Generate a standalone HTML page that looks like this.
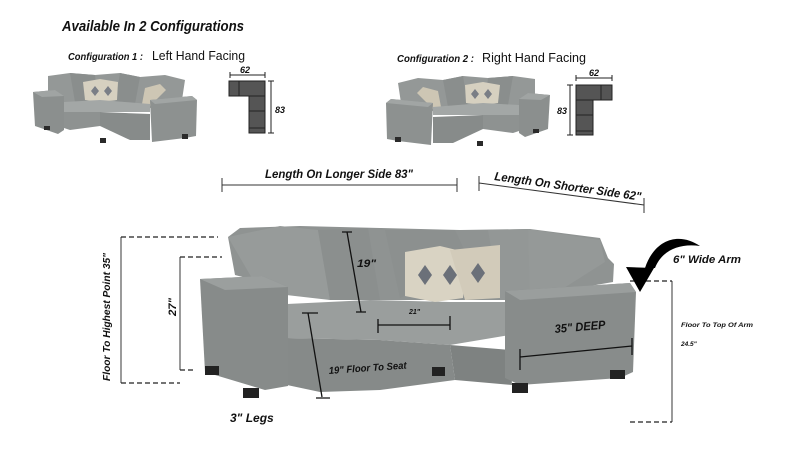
<!DOCTYPE html>
<html><head><meta charset="utf-8"><style>
body{margin:0;background:#fff}
svg{display:block}
text{font-family:"Liberation Sans",sans-serif;font-weight:bold;font-style:italic;fill:#111}
.n{font-family:"Liberation Sans",sans-serif;font-weight:normal;font-style:normal}
</style></head><body>
<svg width="800" height="462" viewBox="0 0 800 462" xmlns="http://www.w3.org/2000/svg">
<defs>
<g id="mini">
  <path d="M48,76 L70,73 L95,75 L120,73 L140,77 L165,75 L185,80 L182,100 L150,108 L65,104 L48,98 Z" fill="#949897"/>
  <path d="M70,73 L95,75 L98,100 L75,102 Z" fill="#8a8e8d"/>
  <path d="M120,73 L140,77 L135,104 L115,103 Z" fill="#8a8e8d"/>
  <path d="M83,82 L100,79 L118,82 L117,100 L100,102 L85,100 Z" fill="#d6d0c0"/>
  <path d="M145,88 L160,84 L166,90 L150,106 L142,104 Z" fill="#cdc6b4"/>
  <g fill="#7a7e86"><path d="M95,86 L99,91 L95,96 L91,91Z"/><path d="M108,86 L112,91 L108,96 L104,91Z"/></g>
  <path d="M33,92 L55,90 L64,96 L64,130 L58,134 L35,126 Z" fill="#8b8f8e"/>
  <path d="M33,92 L55,90 L64,96 L42,97 Z" fill="#a0a4a3"/>
  <path d="M64,102 L100,100 L150,104 L150,112 L100,112 L64,112 Z" fill="#a3a7a6"/>
  <path d="M64,112 L100,112 L100,126 L70,130 L64,128 Z" fill="#8e9291"/>
  <path d="M100,112 L150,114 L150,140 L130,140 L100,126 Z" fill="#878b8a"/>
  <path d="M150,100 L192,96 L197,100 L196,136 L185,138 L152,142 Z" fill="#8d9190"/>
  <path d="M150,100 L192,96 L197,100 L155,104 Z" fill="#a1a5a4"/>
  <g fill="#2a2a2a"><rect x="44" y="126" width="6" height="4"/><rect x="100" y="138" width="6" height="5"/><rect x="182" y="134" width="6" height="5"/></g>
</g>
</defs>

<text x="62" y="31" font-size="15" textLength="182" lengthAdjust="spacingAndGlyphs">Available In 2 Configurations</text>
<text x="68" y="60" font-size="10" textLength="75" lengthAdjust="spacingAndGlyphs">Configuration 1 :</text>
<text x="152" y="60" font-size="13" class="n" textLength="93" lengthAdjust="spacingAndGlyphs">Left Hand Facing</text>
<text x="397" y="62" font-size="10" textLength="77" lengthAdjust="spacingAndGlyphs">Configuration 2 :</text>
<text x="482" y="62" font-size="13" class="n" textLength="104" lengthAdjust="spacingAndGlyphs">Right Hand Facing</text>

<use href="#mini"/>
<g transform="translate(583,3) scale(-1,1)"><use href="#mini"/></g>

<g fill="#555" stroke="#222" stroke-width="1">
<rect x="229" y="81" width="36" height="15"/><rect x="249" y="96" width="16" height="37"/>
<line x1="239" y1="81" x2="239" y2="96"/><line x1="249" y1="111" x2="265" y2="111"/><line x1="249" y1="128" x2="265" y2="128"/>
<rect x="576" y="85" width="36" height="15"/><rect x="576" y="100" width="17" height="35"/>
<line x1="601" y1="85" x2="601" y2="100"/><line x1="576" y1="115" x2="593" y2="115"/><line x1="576" y1="131" x2="593" y2="131"/>
</g>
<g stroke="#222" stroke-width="1" fill="none">
<path d="M230,75 H265 M230,72 V78 M265,72 V78"/><path d="M271,81 V133 M268,81 H274 M268,133 H274"/>
<path d="M576,78 H612 M576,75 V81 M612,75 V81"/><path d="M570,85 V135 M567,85 H573 M567,135 H573"/>
</g>
<text x="240" y="73" font-size="9">62</text><text x="275" y="113" font-size="9">83</text>
<text x="589" y="76" font-size="9">62</text><text x="557" y="114" font-size="9">83</text>

<text x="265" y="178" font-size="12" textLength="148" lengthAdjust="spacingAndGlyphs">Length On Longer Side 83"</text>
<path d="M222,185 H457 M222,178 V192 M457,178 V192" stroke="#333" fill="none"/>
<text x="0" y="0" font-size="12" transform="translate(494,180) rotate(8)" textLength="148" lengthAdjust="spacingAndGlyphs">Length On Shorter Side 62"</text>
<path d="M479,183 L644,205 M479,176 V191 M644,198 V213" stroke="#333" fill="none"/>

<path d="M228,237 L240,228 L300,226 L380,228 L460,230 L530,229 L600,238 L608,258 L614,264 L613,282 L510,300 L330,300 L235,275 Z" fill="#8f9392"/>
<path d="M228,237 L280,226 L318,230 L330,300 L260,292 Z" fill="#979b9a"/>
<path d="M318,230 L368,228 L380,300 L330,300 Z" fill="#8b8f8e"/>
<path d="M385,230 L455,230 L470,262 L400,298 Z" fill="#8c908f"/>
<path d="M488,230 L528,229 L532,300 L500,300 Z" fill="#939796"/>
<path d="M528,229 L600,240 L605,262 L545,300 L530,300 Z" fill="#959998"/>
<path d="M287,304 L370,300 L450,302 L520,302 L522,333 L450,345 L380,340 L287,338 Z" fill="#9a9e9d"/>
<path d="M287,338 L380,340 L450,345 L455,380 L380,390 L320,392 L287,385 Z" fill="#868a89"/>
<path d="M450,345 L510,350 L512,385 L455,380 Z" fill="#7e8281"/>
<path d="M200,279 L262,276 L288,287 L288,386 L265,390 L205,372 Z" fill="#878b8a"/>
<path d="M200,279 L262,276 L288,287 L225,290 Z" fill="#9b9f9e"/>
<path d="M505,291 L630,283 L636,292 L633,372 L620,378 L520,385 L505,378 Z" fill="#888c8b"/>
<path d="M505,291 L630,283 L636,292 L520,300 Z" fill="#9a9e9d"/>
<path d="M405,252 L440,246 L465,252 L463,298 L435,302 L405,296 Z" fill="#d9d3c3"/>
<path d="M450,250 L500,245 L500,298 L465,300 Z" fill="#d2cbba"/>
<g fill="#6b7079"><path d="M425,265 L432,275 L425,285 L418,275Z"/><path d="M450,265 L457,275 L450,285 L443,275Z"/><path d="M478,263 L485,273 L478,283 L471,273Z"/></g>
<g fill="#222"><rect x="205" y="366" width="14" height="9"/><rect x="243" y="388" width="16" height="10"/><rect x="432" y="367" width="13" height="9"/><rect x="512" y="383" width="16" height="10"/><rect x="610" y="370" width="15" height="9"/></g>

<g stroke="#111" stroke-width="1.3" fill="none">
<path d="M347,232 L361,312 M342,232 H352 M356,312 H366"/>
<path d="M378,325 H450 M378,319 V333 M450,316 V330"/>
<path d="M520,357 L632,346 M520,349 V370 M632,338 V355"/>
<path d="M308,313 L322,397 M302,313 H318 M316,398 H330"/>
</g>
<g stroke="#222" stroke-width="1.2" fill="none" stroke-dasharray="5,3">
<path d="M121,237 H218 M121,383 H180"/><path d="M180,257 H222 M180,370 H195"/><path d="M630,281 H672 M630,422 H672"/>
</g>
<g stroke="#222" stroke-width="0.9" fill="none">
<path d="M121,237 V383 M180,257 V370 M672,281 V422"/>
</g>

<text x="357" y="267" font-size="11" textLength="19" lengthAdjust="spacingAndGlyphs">19"</text>
<text x="409" y="314" font-size="7">21"</text>
<text x="0" y="0" font-size="12" transform="translate(555,333) rotate(-5)" textLength="51" lengthAdjust="spacingAndGlyphs">35" DEEP</text>
<text x="0" y="0" font-size="10" transform="translate(329,374) rotate(-4)" textLength="78" lengthAdjust="spacingAndGlyphs">19" Floor To Seat</text>
<text x="230" y="422" font-size="12">3" Legs</text>
<text x="0" y="0" font-size="11" transform="translate(176,316) rotate(-90)" textLength="18" lengthAdjust="spacingAndGlyphs">27"</text>
<text x="0" y="0" font-size="10" transform="translate(110,381) rotate(-90)" textLength="128" lengthAdjust="spacingAndGlyphs">Floor To Highest Point  35"</text>
<text x="673" y="263" font-size="11" textLength="68" lengthAdjust="spacingAndGlyphs">6" Wide Arm</text>
<text x="681" y="327" font-size="6.5" textLength="72" lengthAdjust="spacingAndGlyphs">Floor To Top Of Arm</text>
<text x="681" y="346" font-size="6.5">24.5"</text>

<path d="M700,246 C680,232 655,238 645,268 L655,268 C662,250 680,243 700,246 Z" fill="#000"/>
<path d="M626,267 L654,268 L640,292 Z" fill="#000"/>
</svg>
</body></html>
